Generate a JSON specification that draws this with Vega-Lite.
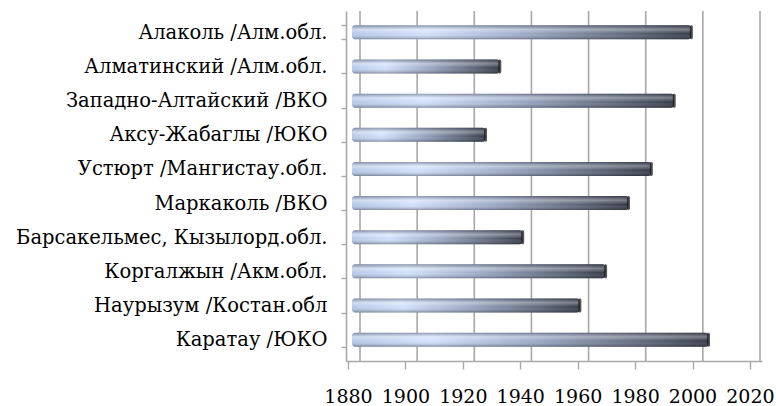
{
  "$schema": "https://vega.github.io/schema/vega-lite/v6.json",
  "autosize": "none",
  "width": 416,
  "height": 350,
  "padding": {"left": 346, "top": 11, "right": 14, "bottom": 45},
  "background": "white",
  "config": {"view": {"stroke": null}},
  "datasets": {
    "reserves": [
      {"name": "Алаколь /Алм.обл.", "year": 1998},
      {"name": "Алматинский /Алм.обл.", "year": 1931},
      {"name": "Западно-Алтайский /ВКО", "year": 1992},
      {"name": "Аксу-Жабаглы /ЮКО", "year": 1926},
      {"name": "Устюрт /Мангистау.обл.", "year": 1984},
      {"name": "Маркаколь /ВКО", "year": 1976},
      {"name": "Барсакельмес, Кызылорд.обл.", "year": 1939},
      {"name": "Коргалжын /Акм.обл.", "year": 1968},
      {"name": "Наурызум /Костан.обл", "year": 1959},
      {"name": "Каратау /ЮКО", "year": 2004}
    ],
    "grid": [
      {"g": 1880}, {"g": 1900}, {"g": 1920}, {"g": 1940},
      {"g": 1960}, {"g": 1980}, {"g": 2000}, {"g": 2020}
    ]
  },
  "resolve": {"scale": {"x": "independent"}, "axis": {"x": "independent"}},
  "layer": [
    {
      "data": {"name": "grid"},
      "mark": {"type": "rule", "color": "#a8a8a8", "strokeWidth": 1.6},
      "encoding": {
        "x": {"field": "g", "type": "quantitative", "axis": null,
              "scale": {"domain": [1875.1, 2020.7], "nice": false, "zero": false}}
      }
    },
    {
      "data": {"name": "reserves"},
      "encoding": {
        "y": {"field": "name", "type": "nominal", "sort": null, "title": null,
              "scale": {"paddingInner": 0.59, "paddingOuter": 0.42},
              "axis": {"domainColor": "#a8a8a8", "domainWidth": 1.6, "tickColor": "#a8a8a8",
                       "tickWidth": 1.4, "tickSize": 5, "tickBand": "extent",
                       "labelPadding": 14, "labelFont": "DejaVu Serif", "labelFontSize": 19.5,
                       "labelColor": "#000000", "labelLimit": 400}},
        "x": {"field": "year", "type": "quantitative", "axis": null,
              "scale": {"domain": [1877.2, 2022.7], "nice": false, "zero": false}}
      },
      "layer": [
        {
          "mark": {"type": "bar", "cornerRadiusEnd": 3,
            "color": {"gradient": "linear", "x1": 0, "y1": 0, "x2": 1, "y2": 0,
              "stops": [
                {"offset": 0, "color": "#b7c8e8"},
                {"offset": 0.22, "color": "#d2e1fb"},
                {"offset": 0.5, "color": "#9eacc8"},
                {"offset": 0.82, "color": "#5d6679"},
                {"offset": 1, "color": "#343a47"}
              ]}},
          "encoding": {"x2": {"datum": 1879.3}}
        },
        {
          "mark": {"type": "bar", "cornerRadiusEnd": 3,
            "color": {"gradient": "linear", "x1": 0, "y1": 0, "x2": 0, "y2": 1,
              "stops": [
                {"offset": 0, "color": "rgba(40,45,60,0.4)"},
                {"offset": 0.3, "color": "rgba(255,255,255,0.35)"},
                {"offset": 0.6, "color": "rgba(255,255,255,0)"},
                {"offset": 1, "color": "rgba(20,25,35,0.4)"}
              ]}},
          "encoding": {"x2": {"datum": 1879.3}}
        },
        {
          "mark": {"type": "tick", "color": "#141414", "thickness": 3, "size": 14, "cornerRadius": 1.5}
        }
      ]
    },
    {
      "data": {"name": "grid"},
      "mark": {"type": "rule", "strokeOpacity": 0},
      "encoding": {
        "x": {"field": "g", "type": "quantitative",
              "scale": {"domain": [1879.3, 2024.2], "nice": false, "zero": false},
              "axis": {"orient": "bottom", "values": [1880, 1900, 1920, 1940, 1960, 1980, 2000, 2020],
                       "format": "d", "grid": false, "title": null,
                       "domainColor": "#a8a8a8", "domainWidth": 1.6,
                       "tickColor": "#a8a8a8", "tickWidth": 1.4, "tickSize": 8,
                       "labelPadding": 18, "labelFont": "DejaVu Serif", "labelFontSize": 19,
                       "labelColor": "#000000", "labelFlush": false, "labelOverlap": false}}
      }
    }
  ]
}
